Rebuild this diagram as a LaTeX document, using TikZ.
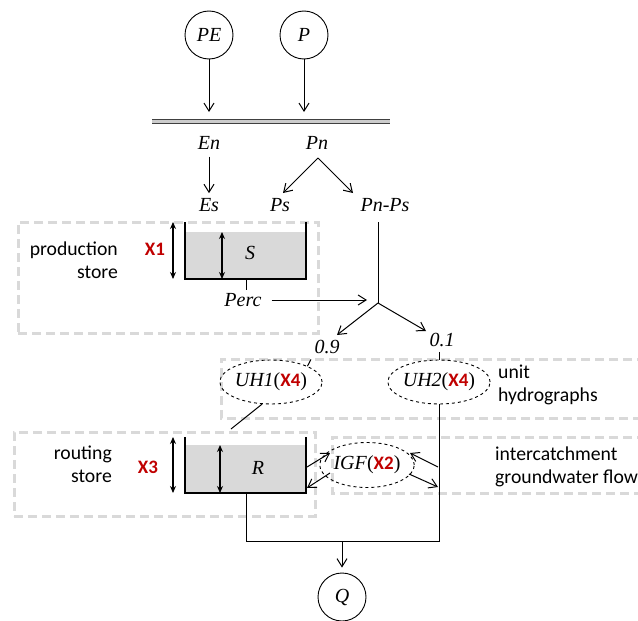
\documentclass[tikz,border=0pt]{standalone}
\usepackage{fontspec}
\setmainfont{Liberation Serif}
\setsansfont{Carlito}
\usetikzlibrary{arrows.meta,shapes.geometric}
\definecolor{boxgray}{HTML}{D9D9D9}
\definecolor{fillgray}{HTML}{D9D9D9}
\definecolor{xred}{HTML}{C00000}
\newcommand{\xparam}[1]{{\fontsize{19}{22}\selectfont\sffamily\bfseries\color{xred}#1}}
\begin{document}
\begin{tikzpicture}[x=1pt,y=-1pt,
  lbl/.style={font=\fontsize{20}{24}\selectfont\itshape, inner sep=1pt},
  sanslbl/.style={font=\fontsize{19.7}{23}\selectfont\sffamily, inner sep=0pt},
  xpar/.style={font=\fontsize{19}{22}\selectfont\sffamily\bfseries, text=xred, inner sep=0pt},
  grpbox/.style={draw=boxgray, line width=3pt, dash pattern=on 9pt off 5pt, inner sep=0pt, outer sep=0pt, anchor=north west},
  grpline/.style={draw=boxgray, line width=3pt, dash pattern=on 9pt off 5pt},
  ln/.style={line width=1pt},
  arr/.style={ln, -{Straight Barb[length=8pt,width=10pt]}},
  dbl/.style={line width=1.2pt, {Stealth[length=7pt,width=6pt]}-{Stealth[length=7pt,width=6pt]}},
  circ/.style={draw, circle, minimum size=48pt, inner sep=0pt, line width=0.9pt, font=\fontsize{20}{24}\selectfont\itshape},
  uh/.style={draw, ellipse, dashed, line width=0.9pt, minimum width=80pt, minimum height=44pt, inner sep=0pt, font=\fontsize{20}{24}\selectfont},
  tank/.style={line width=1.3pt},
  bar/.style={draw=black!75, line width=1pt, double=black!20, double distance=2.5pt},
]
\useasboundingbox (0,0) rectangle (638,621);
\clip (0,0) rectangle (638,621);

% group boxes
\node[grpbox, minimum width=300pt, minimum height=111pt] (prodbox) at (18,222) {};
\node[grpbox, minimum width=301pt, minimum height=84pt] (routbox) at (14,432) {};
\coordinate (uhTL) at (221,359);
\coordinate (uhBL) at (221,418);
\coordinate (uhTR) at (660,359);
\coordinate (uhBR) at (660,418);
\draw[grpline] (uhTR) -- (uhTL) -- (uhBL) -- (uhBR);
\coordinate (igTL) at (332,437);
\coordinate (igBL) at (332,493);
\coordinate (igTR) at (660,437);
\coordinate (igBR) at (660,493);
\draw[grpline] (igTR) -- (igTL) -- (igBL) -- (igBR);

% inputs
\node[circ] (PE) at (209,35) {PE};
\node[circ] (P) at (304,35) {P};
\coordinate (barL) at (152,121.5);
\coordinate (barR) at (390,121.5);
\draw[bar] (barL) -- (barR);
\coordinate (PEin) at (209,112);
\coordinate (Pin) at (304,112);
\draw[arr] (PE) -- (PEin);
\draw[arr] (P) -- (Pin);

\node[lbl] (En) at (209,143) {En};
\node[lbl] (Pn) at (317,143) {Pn};
\node[lbl] (Es) at (209,205) {Es};
\node[lbl] (Ps) at (280,205) {Ps};
\node[lbl] (PnPs) at (385,205) {Pn-Ps};
\draw[arr, shorten <=6pt, shorten >=4pt] (En) -- (Es);
\coordinate (apex) at (318,158);
\coordinate (PsIn) at (283,193);
\coordinate (PnPsIn) at (353,193);
\draw[arr] (apex) -- (PsIn);
\draw[arr] (apex) -- (PnPsIn);

% production store
\fill[fillgray] (185,232) rectangle (306,279);
\coordinate (SL) at (185,222);
\coordinate (SR) at (306,222);
\draw[tank] (SL) -- (185,279) -- (306,279) -- (SR);
\coordinate (X1t) at (173,222);
\coordinate (X1b) at (173,279);
\draw[dbl] (X1t) -- (X1b);
\coordinate (St) at (222,232);
\coordinate (Sb) at (222,279);
\draw[dbl] (St) -- (Sb);
\node[lbl] (S) at (250,253) {S};
\node[xpar] (X1) at (155,249) {X1};
\node[sanslbl, align=right, anchor=east] (prodlbl) at (118,260) {production\\store};

% percolation
\coordinate (Sout) at (246,279);
\node[lbl] (Perc) at (243,300) {Perc};
\draw[ln] (Sout) -- ([yshift=2pt]Sout |- Perc.north);
\coordinate (J) at (378,303);
\coordinate (PnPsOut) at (378,222);
\draw[ln] (PnPsOut) -- (J);
\draw[arr, shorten <=9pt, shorten >=11pt] (Perc.east) -- (Perc.east -| J);

% split
\node[lbl] (n09) at (327,347) {0.9};
\node[lbl] (n01) at (442,340) {0.1};
\coordinate (b09) at (337,335);
\coordinate (b01) at (426,331);
\draw[arr] (J) -- (b09);
\draw[arr] (J) -- (b01);

% unit hydrographs
\node[uh] (UH1) at (271,382) {\textit{UH1}(\xparam{X4})};
\node[uh] (UH2) at (439,382) {\textit{UH2}(\xparam{X4})};
\draw[ln, shorten >=5pt] (UH1.north east) -- (n09.south west);
\draw[ln, shorten <=4pt] (n01.south -| UH2) -- (UH2.north);
\node[sanslbl, align=left, anchor=west] (uhlbl) at (498,385) {unit\\hydrographs};
\coordinate (Rin) at (231,429);
\draw[ln] (UH1.-112) -- (Rin);

% routing store
\fill[fillgray] (185,445) rectangle (306,493);
\coordinate (RL) at (185,437);
\coordinate (RR) at (306,437);
\draw[tank] (RL) -- (185,493) -- (306,493) -- (RR);
\coordinate (X3t) at (173,437);
\coordinate (X3b) at (173,493);
\draw[dbl] (X3t) -- (X3b);
\coordinate (Rt) at (220,445);
\coordinate (Rb) at (220,493);
\draw[dbl] (Rt) -- (Rb);
\node[lbl] (R) at (258,468) {R};
\node[xpar] (X3) at (148,467) {X3};
\node[sanslbl, align=right, anchor=east] (routlbl) at (112,464) {routing\\store};

% IGF
\node[uh, minimum width=70pt, minimum height=45pt] (IGF) at (367,465) {\textit{IGF}(\xparam{X2})};
\node[sanslbl, align=left, anchor=west] (igflbl) at (495,467) {intercatchment\\groundwater flow};
\coordinate (Rw1) at (307,467);
\coordinate (Rw2) at (307,488);
\coordinate (Lw1) at (438,467);
\coordinate (Lw2) at (438,487);
\coordinate (i1) at (330,453);
\coordinate (i2) at (330,473);
\coordinate (i3) at (410,453);
\coordinate (i4) at (409,474);
\draw[arr] (Rw1) -- (i1);
\draw[arr] (i2) -- (Rw2);
\draw[arr] (Lw1) -- (i3);
\draw[arr] (i4) -- (Lw2);

% outflow
\coordinate (Rout) at (246,493);
\coordinate (Qj) at (342,541);
\draw[ln] (UH2.south) -- (UH2.south |- Qj) -- (Rout |- Qj) -- (Rout);
\node[circ] (Q) at (342,597) {Q};
\draw[arr, shorten >=5pt] (Qj) -- (Q);
\end{tikzpicture}
\end{document}
